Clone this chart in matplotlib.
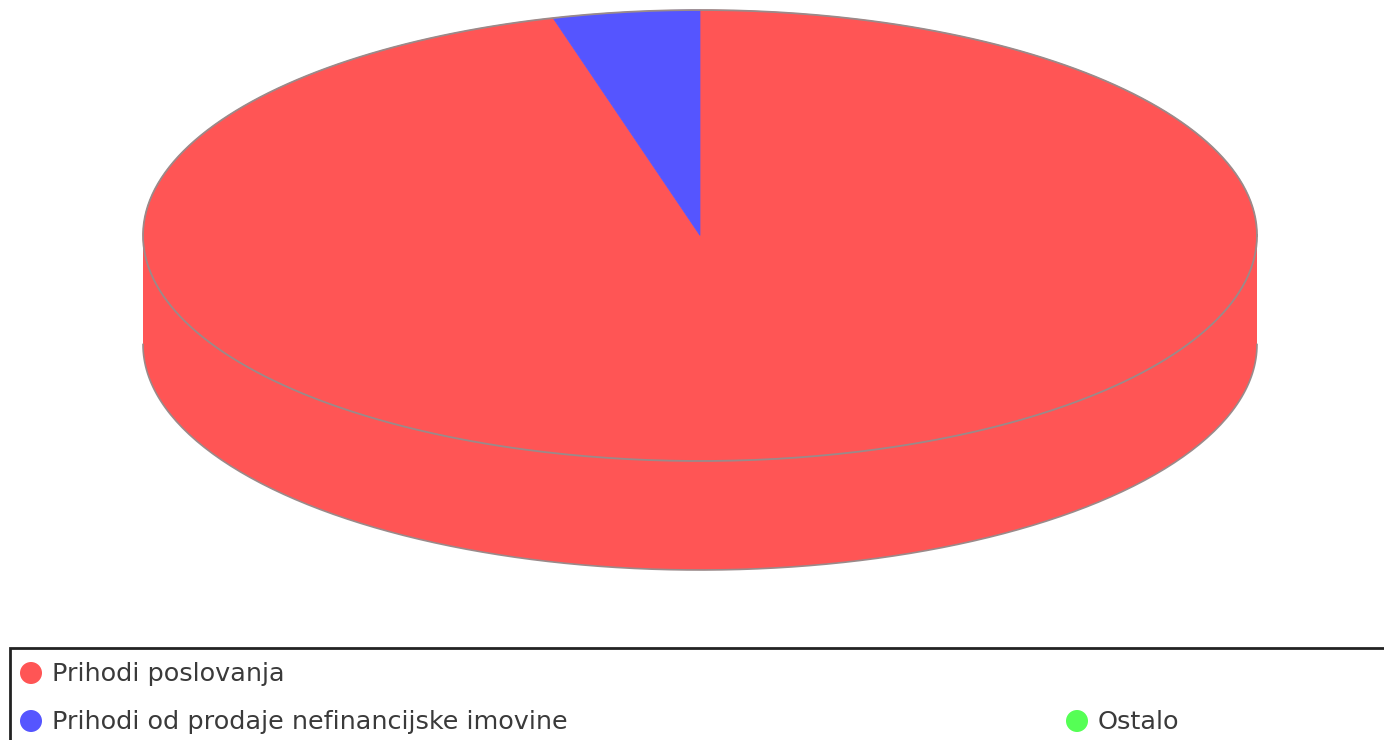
import numpy as np
import matplotlib
matplotlib.use("Agg")
import matplotlib.pyplot as plt
from matplotlib.patches import Ellipse, Rectangle, Polygon

labels = ["Prihodi poslovanja", "Prihodi od prodaje nefinancijske imovine", "Ostalo"]
shares = [95.75, 4.25, 0.0]
colors = ["#FF5555", "#5555FF", "#55FF55"]

W, H = 1384, 740
fig = plt.figure(figsize=(W/100, H/100), dpi=100)
ax = fig.add_axes([0, 0, 1, 1])
ax.set_xlim(0, W)
ax.set_ylim(H, 0)
ax.axis("off")

cx, cy, rx, ry, depth = 700, 235.5, 557, 225.5, 109
edge = "#9a8a8a"

# Side wall
t = np.linspace(0, np.pi, 200)
xs = cx + rx*np.cos(t)
ys = cy + ry*np.sin(t)
wall = np.r_[np.c_[xs, ys + depth], np.c_[xs[::-1], ys[::-1]]]
ax.add_patch(Polygon(wall, closed=True, fc=colors[0], ec="none", zorder=1))
ax.plot(xs, ys + depth, color=edge, lw=1.2, zorder=2)

# Top face: slices run clockwise from 12 o'clock
total = sum(shares)
cum = 0.0
for share, col in zip(shares, colors):
    if share <= 0:
        continue
    th = np.linspace(cum, cum + share/total, 300)*2*np.pi
    cum += share/total
    px = cx + rx*np.sin(th)
    py = cy - ry*np.cos(th)
    ax.add_patch(Polygon(np.c_[np.r_[cx, px], np.r_[cy, py]], closed=True,
                         fc=col, ec=col, lw=0.5, zorder=3))

# Rim
th = np.linspace(0, 2*np.pi, 500)
ax.plot(cx + rx*np.cos(th), cy + ry*np.sin(th), color=edge, lw=1.3, zorder=4)

# Legend
ax.add_patch(Rectangle((10, 648), 1400, 110, fc="white", ec="#222222", lw=2.0, zorder=5))
positions = [(31, 673), (31, 721), (1077, 721)]
for (x, y), lab, col in zip(positions, labels, colors):
    ax.add_patch(Ellipse((x, y), 22, 22, fc=col, ec="none", zorder=6))
    ax.text(x + 21, y + 1, lab, family="DejaVu Sans", fontsize=18.35, color="#3a3a3a",
            va="center", ha="left", zorder=7)

fig.savefig("out.png", dpi=100)
